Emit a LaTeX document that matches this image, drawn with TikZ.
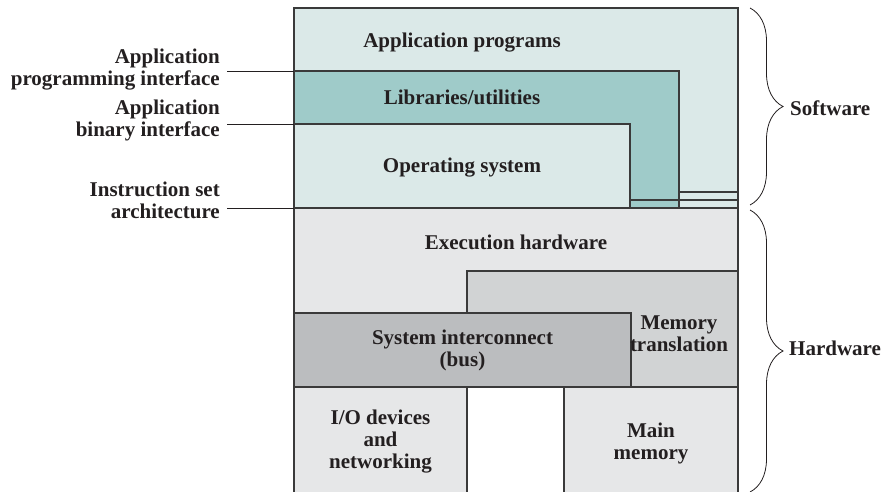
\documentclass[tikz,border=0pt]{standalone}
\usepackage{fontspec}
\setmainfont{Liberation Serif}
\usepackage{tikz}
\usetikzlibrary{decorations.pathreplacing,calc}
\definecolor{swlight}{HTML}{DBE9E8}
\definecolor{swteal}{HTML}{9FCBC9}
\definecolor{hwlight}{HTML}{E6E7E8}
\definecolor{hwmid}{HTML}{D1D3D4}
\definecolor{hwdark}{HTML}{BBBDBF}
\definecolor{edge}{HTML}{3A3A3A}
\definecolor{ink}{HTML}{231F20}

\begin{document}
\begin{tikzpicture}[x=1pt,y=-1pt,
    layer/.style={draw=edge,line width=1.4pt},
    txt/.style={font=\bfseries\fontsize{21}{22}\selectfont,text=ink,inner sep=0,align=center},
    tag/.style={txt,anchor=east,align=right},
    tie/.style={draw=ink,line width=0.9pt},
    curly/.style={draw=ink,line width=0.8pt,decorate,decoration={brace,amplitude=33pt}}]
  \useasboundingbox (0,0) rectangle (887,492);

  % Software layers
  \draw[layer,fill=swlight] (294,8) rectangle (738,208);
  \draw[layer,fill=swteal] (294,71) -- (679,71) -- (679,208) -- (630,208)
  -- (630,124) -- (294,124) -- cycle;
  \draw[layer] (679,192) -- (738,192);
  \draw[layer] (630,200) -- (738,200);

  % Hardware layers
  \draw[layer,fill=hwlight] (294,208) rectangle (738,387);
  \draw[layer,fill=hwmid] (467,271) rectangle (738,387);
  \draw[layer,fill=hwdark] (294,313) rectangle (631,387);
  \fill[hwlight] (294,387) rectangle (467,500);
  \draw[layer] (294,500) |- (467,387) -- (467,500);
  \fill[hwlight] (564,387) rectangle (738,500);
  \draw[layer] (564,500) |- (738,387) -- (738,500);

  % Layer names
  \node[txt,anchor=base] (apps) at (462,48) {Application programs};
  \node[txt,anchor=base] (libs) at (462,105) {Libraries/utilities};
  \node[txt,anchor=base] (os) at (462,173) {Operating system};
  \node[txt,anchor=base] (exec) at (516,250) {Execution hardware};
  \node[txt] (bus) at (462.5,350.5) {System interconnect\\(bus)};
  \node[txt] (mmu) at (679,334) {Memory\\translation};
  \node[txt] (io) at (380.5,442) {I/O devices\\and\\networking};
  \node[txt] (mem) at (651,443) {Main\\memory};

  % Interfaces
  \coordinate (apiend) at (294,71);
  \coordinate (abiend) at (294,124);
  \coordinate (isaend) at (294,208);
  \node[tag] (apitag) at (220,69.5) {Application\\programming interface};
  \node[tag] (abitag) at (220,120.5) {Application\\binary interface};
  \node[tag] (isatag) at (220,200.5) {Instruction set\\architecture};
  \draw[tie] ([xshift=7pt]apitag.east |- apiend) -- (apiend);
  \draw[tie] ([xshift=7pt]abitag.east |- abiend) -- (abiend);
  \draw[tie] ([xshift=7pt]isatag.east |- isaend) -- (isaend);

  % Braces
  \coordinate (swtop) at (750,8);
  \coordinate (swbot) at (750,205);
  \coordinate (hwtop) at (750,210);
  \coordinate (hwbot) at (750,492);
  \draw[curly] (swtop) -- (swbot);
  \draw[curly] (hwtop) -- (hwbot);
  \node[txt,anchor=west] (sw) at (790,108) {Software};
  \node[txt,anchor=west] (hw) at (789,348) {Hardware};
\end{tikzpicture}
\end{document}
